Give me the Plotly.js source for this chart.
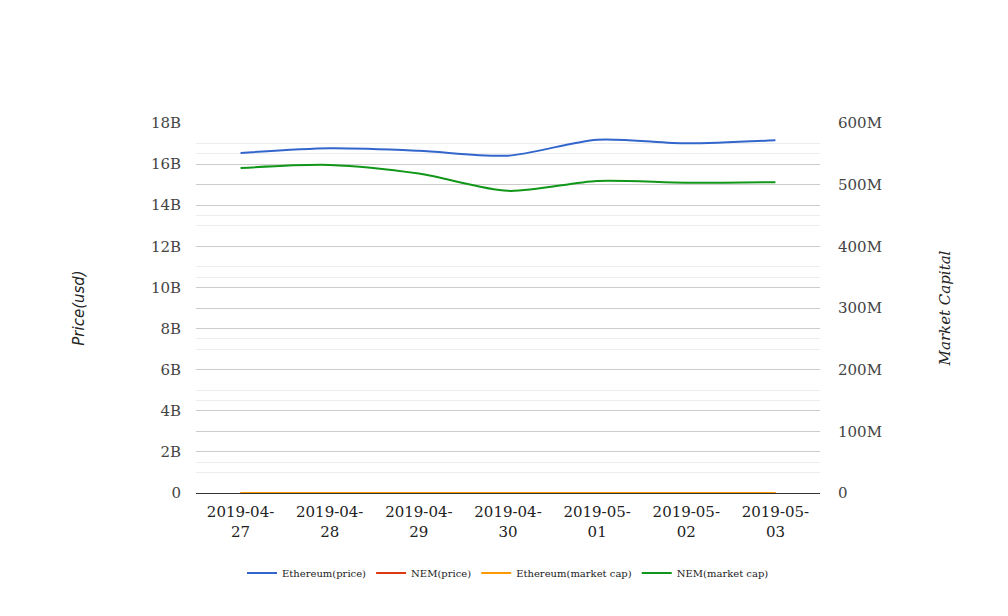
<!DOCTYPE html>
<html>
<head>
<meta charset="utf-8">
<script src="https://cdn.plot.ly/plotly-3.0.1.min.js"></script>
<style>html,body{margin:0;padding:0;background:#fff;}#chart{width:1008px;height:616px;}</style>
</head>
<body>
<div id="chart"></div>
<script>
// Data
const dates = ["2019-04-27","2019-04-28","2019-04-29","2019-04-30","2019-05-01","2019-05-02","2019-05-03"];
const dateLabels = ["2019-04-<br>27","2019-04-<br>28","2019-04-<br>29","2019-04-<br>30","2019-05-<br>01","2019-05-<br>02","2019-05-<br>03"];
const ethereumPrice = [16.54e9, 16.77e9, 16.65e9, 16.41e9, 17.19e9, 17.01e9, 17.16e9];
const nemPrice = [0.058, 0.059, 0.057, 0.055, 0.056, 0.056, 0.056];
const ethereumMarketCap = [158, 158, 156, 161, 161, 160, 160];
const nemMarketCap = [527e6, 532e6, 518e6, 490e6, 506e6, 503e6, 504e6];
const leftTickVals = [0, 2e9, 4e9, 6e9, 8e9, 10e9, 12e9, 14e9, 16e9, 18e9];
const leftTickText = ["0","2B","4B","6B","8B","10B","12B","14B","16B","18B"];
const rightTickVals = [0, 100e6, 200e6, 300e6, 400e6, 500e6, 600e6];
const rightTickText = ["0","100M","200M","300M","400M","500M","600M"];

const serif = "DejaVu Serif";
const traces = [
  {x: dates, y: ethereumPrice, name: "Ethereum(price)", type: "scatter", mode: "lines",
   line: {color: "#3366cc", width: 2, shape: "spline", smoothing: 0.8}, yaxis: "y"},
  {x: dates, y: nemPrice, name: "NEM(price)", type: "scatter", mode: "lines",
   line: {color: "#dc3912", width: 2, shape: "spline", smoothing: 0.8}, yaxis: "y"},
  {x: dates, y: ethereumMarketCap, name: "Ethereum(market cap)", type: "scatter", mode: "lines",
   line: {color: "#ff9900", width: 2, shape: "spline", smoothing: 0.8}, yaxis: "y2"},
  {x: dates, y: nemMarketCap, name: "NEM(market cap)", type: "scatter", mode: "lines",
   line: {color: "#109618", width: 2, shape: "spline", smoothing: 0.8}, yaxis: "y2"}
];

const layout = {
  width: 1008, height: 616,
  margin: {l: 196, r: 188, t: 123, b: 123, pad: 0},
  paper_bgcolor: "#fff", plot_bgcolor: "#fff",
  font: {family: serif, size: 15, color: "#444"},
  showlegend: true,
  legend: {orientation: "h", x: 0.5, xanchor: "center", y: -0.216, yanchor: "middle",
           font: {family: serif, size: 10, color: "#222"}, itemwidth: 30, tracegroupgap: 0},
  xaxis: {type: "category", range: [-0.5, 6.5], tickvals: dates, ticktext: dateLabels,
          showgrid: false, zeroline: false, showline: false, ticks: "", ticklabelstandoff: 8,
          tickfont: {family: serif, size: 15, color: "#222"}, fixedrange: true},
  yaxis: {range: [0, 18e9], tickvals: leftTickVals, ticktext: leftTickText,
          showgrid: true, gridcolor: "#cccccc", gridwidth: 1,
          minor: {dtick: 1e9, tick0: 0, showgrid: true, gridcolor: "#ececec", gridwidth: 1, ticks: ""},
          zeroline: true, zerolinecolor: "#333", zerolinewidth: 1,
          showline: false, ticks: "", ticklabelstandoff: 14,
          tickfont: {family: serif, size: 15, color: "#444"},
          title: {text: "Price(usd)", standoff: 62, font: {family: "DejaVu Sans", size: 15, color: "#222", style: "italic"}}},
  yaxis2: {overlaying: "y", side: "right", range: [0, 600e6], tickvals: rightTickVals, ticktext: rightTickText,
           showgrid: true, gridcolor: "#cccccc", gridwidth: 1,
           minor: {dtick: 50e6, tick0: 0, showgrid: true, gridcolor: "#ececec", gridwidth: 1, ticks: ""},
           zeroline: false, showline: false, ticks: "", ticklabelstandoff: 17,
           tickfont: {family: serif, size: 15, color: "#444"},
           title: {text: "Market Capital", standoff: 58, font: {family: serif, size: 15, color: "#222", style: "italic"}}}
};

Plotly.newPlot("chart", traces, layout, {displayModeBar: false, staticPlot: true});
</script>
</body>
</html>
